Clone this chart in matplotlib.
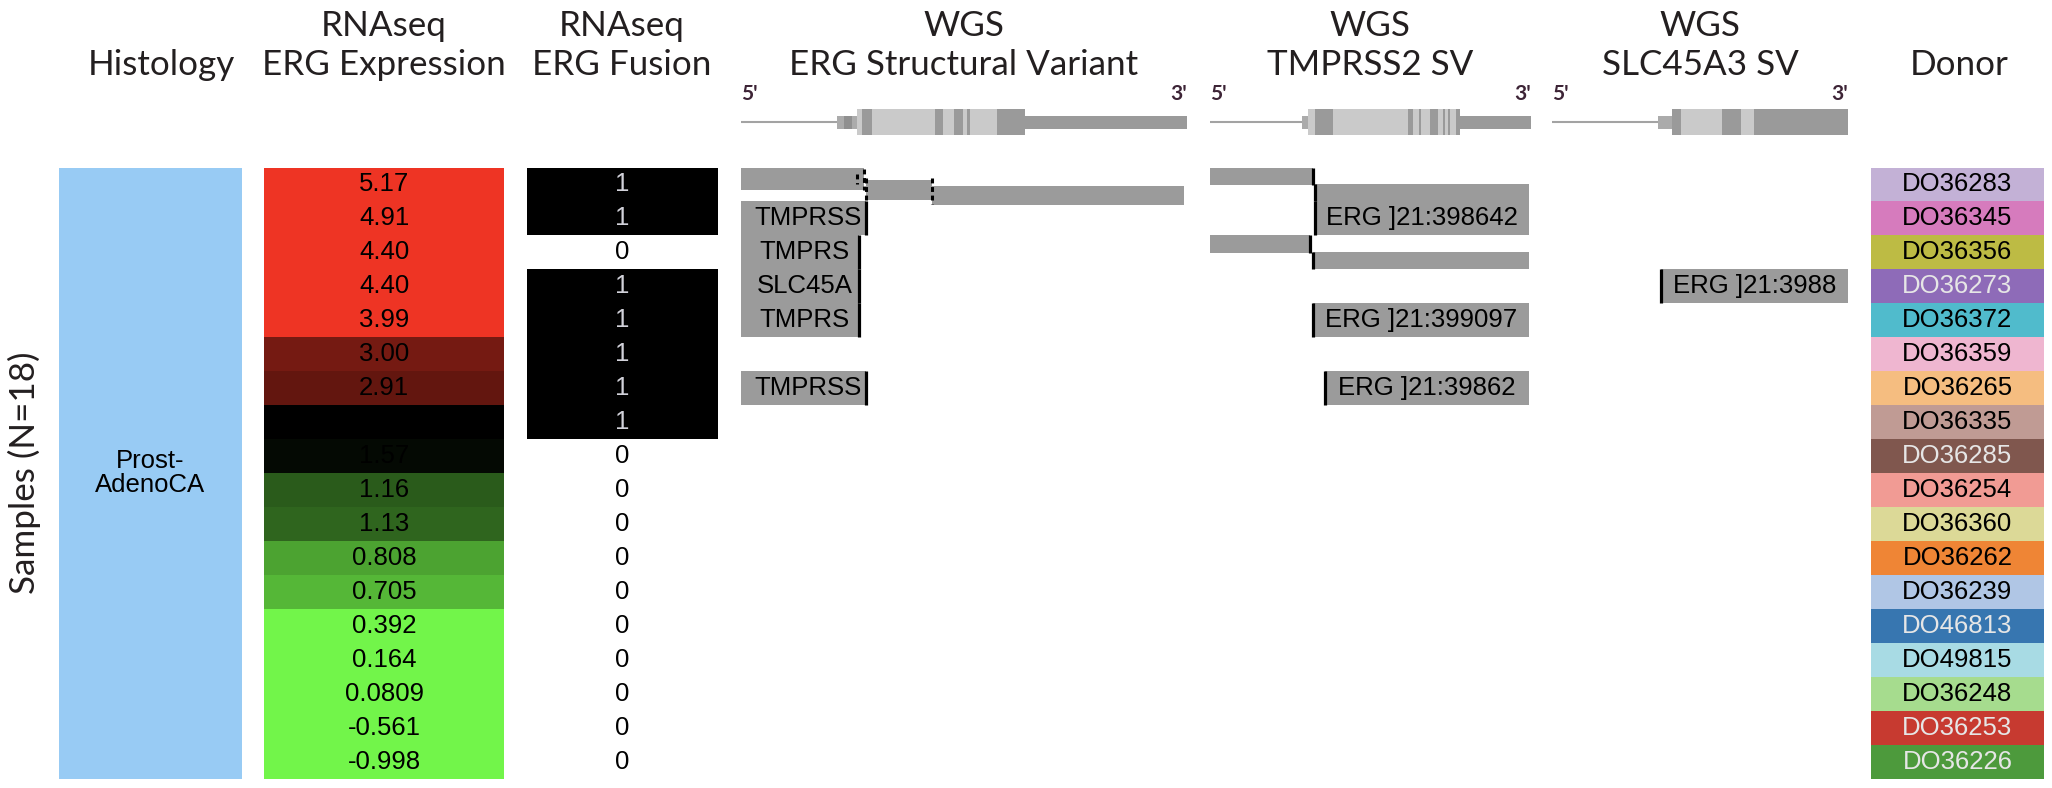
import matplotlib
matplotlib.use("Agg")
import matplotlib.pyplot as plt
from matplotlib.colors import LinearSegmentedColormap, Normalize

# ---------------- data ----------------
donors = ["DO36283", "DO36345", "DO36356", "DO36273", "DO36372", "DO36359",
          "DO36265", "DO36335", "DO36285", "DO36254", "DO36360", "DO36262",
          "DO36239", "DO46813", "DO49815", "DO36248", "DO36253", "DO36226"]
donor_colors = ["#c3b1d6", "#d67bbd", "#bdbb44", "#8e6bb8", "#50bbcc", "#efb6d0",
                "#f5bd80", "#c09b94", "#80574e", "#f19b94", "#dcd997", "#ef8535",
                "#b0c6e5", "#3776b0", "#a8dbe4", "#a6dc8e", "#c73a30", "#4d9a3c"]
donor_light_text = ["DO36273", "DO36285", "DO46813", "DO36253", "DO36226"]

histology_label = "Prost-\nAdenoCA"

erg_expression = [5.17, 4.91, 4.40, 4.40, 3.99, 3.00, 2.91, 2.02, 1.57, 1.16,
                  1.13, 0.808, 0.705, 0.392, 0.164, 0.0809, -0.561, -0.998]
erg_expression_labels = ["5.17", "4.91", "4.40", "4.40", "3.99", "3.00", "2.91",
                         "2.02", "1.57", "1.16", "1.13", "0.808", "0.705",
                         "0.392", "0.164", "0.0809", "-0.561", "-0.998"]
erg_fusion = [1, 1, 0, 1, 1, 1, 1, 1, 0, 0, 0, 0, 0, 0, 0, 0, 0, 0]

# structural variants (positions in % of the gene model width)
erg_sv_rows = [1, 2, 3, 4, 6]
erg_sv_partner = ["TMPRSS", "TMPRS", "SLC45A", "TMPRS", "TMPRSS"]
erg_sv_end = [28.0, 26.5, 26.5, 26.5, 28.0]
erg_split_row = 0
erg_split_pieces = [(0.0, 27.6), (28.0, 42.8), (42.8, 99.3)]

tmprss2_sv_rows = [1, 4, 6]
tmprss2_sv_labels = ["ERG ]21:398642", "ERG ]21:399097", "ERG ]21:39862"]
tmprss2_sv_start = [32.7, 32.1, 35.8]
tmprss2_split_rows = [0, 2]
tmprss2_split_pieces = [[(0.0, 32.1), (32.7, 99.4)], [(0.0, 31.2), (32.1, 99.4)]]

slc45a3_sv_rows = [3]
slc45a3_sv_labels = ["ERG ]21:3988"]
slc45a3_sv_start = [36.8]

# gene models (% of width)
erg_gene = dict(line=(0, 21.5), utr=[(21.5, 26.0)], utr_dark=[(23.1, 24.9)],
                light=[(26.0, 63.7)],
                dark=[(27.1, 29.4), (43.5, 45.3), (47.8, 49.8), (50.7, 51.3), (57.4, 63.7)],
                tail=(63.7, 100))
tmprss2_gene = dict(line=(0, 28.7), utr=[(28.7, 30.5)], utr_dark=[],
                    light=[(30.5, 77.9)],
                    dark=[(32.7, 38.3), (61.7, 63.2), (65.1, 65.7), (68.5, 71.0),
                          (72.6, 73.2), (74.1, 74.8), (76.6, 77.9)],
                    tail=(77.9, 100))
slc45a3_gene = dict(line=(0, 35.8), utr=[(35.8, 40.5)], utr_dark=[],
                    light=[(40.5, 68.2)],
                    dark=[(40.5, 43.6), (57.4, 63.9), (68.2, 100)],
                    tail=None)

# ---------------- layout ----------------
W, H, DPI = 2052, 788, 100
fig = plt.figure(figsize=(W / DPI, H / DPI), dpi=DPI)
fig.patch.set_facecolor("white")

ROW_TOP, ROW_BOT = 167.5, 778.7
N = len(donors)
rows = list(range(N))
GREY = "#9b9b9b"
HELV = "Liberation Sans"
FS = 18.5


def px_axes(x0, y0, x1, y1):
    ax = fig.add_axes([x0 / W, 1 - y1 / H, (x1 - x0) / W, (y1 - y0) / H])
    ax.set_xlim(0, 100)
    ax.axis("off")
    return ax


def row_axes(x0, x1):
    ax = px_axes(x0, ROW_TOP, x1, ROW_BOT)
    ax.set_ylim(N, 0)
    return ax


cols = dict(hist=(59, 242), expr=(264, 504), fus=(527, 718), erg=(741, 1187),
            tmp=(1210, 1531), slc=(1552, 1848), donor=(1871, 2044))

# Histology
ax = row_axes(*cols["hist"])
ax.barh(0, 100, height=N, align="edge", color="#98cbf4", linewidth=0)
ax.text(50, N / 2, histology_label, ha="center", va="center", fontsize=FS,
        family=HELV, linespacing=1.0)

# Expression
vmin, vmax = -1.0, 5.2
nodes = [-1.0, 0.39, 1.62, 2.38, 3.66, 5.2]
ncols = ["#72f54a", "#72f54a", "#000000", "#000000", "#ee3424", "#ee3424"]
cmap = LinearSegmentedColormap.from_list(
    "gkr", list(zip([(v - vmin) / (vmax - vmin) for v in nodes], ncols)))
norm = Normalize(vmin, vmax)
ax = row_axes(*cols["expr"])
ax.barh(rows, 100, height=1, align="edge", color=cmap(norm(erg_expression)),
        linewidth=0, antialiased=False)
for r, lab in zip(rows, erg_expression_labels):
    ax.text(50, r + 0.5, lab, ha="center", va="center", fontsize=FS, family=HELV,
            color="black")

# Fusion
ax = row_axes(*cols["fus"])
ax.barh(rows, [100 if v else 0 for v in erg_fusion], height=1, align="edge",
        color="black", linewidth=0, antialiased=False)
for r, v in zip(rows, erg_fusion):
    ax.text(50, r + 0.5, str(v), ha="center", va="center", fontsize=FS, family=HELV,
            color="#d2d2da" if v else "black")

# ERG SV
ax = row_axes(*cols["erg"])
for r, lab, e in zip(erg_sv_rows, erg_sv_partner, erg_sv_end):
    ax.barh(r, e, left=0, height=1, align="edge", color=GREY, linewidth=0,
            antialiased=False)
    ax.vlines(e, r, r + 1, colors="black", lw=2.3)
    ax.text(e / 2 + 1, r + 0.5, lab, ha="center", va="center", fontsize=FS,
            family=HELV)
offs = [(0.0, 0.66), (0.36, 0.60), (0.55, 0.56)]
for (s, e), (o, h) in zip(erg_split_pieces, offs):
    ax.barh(erg_split_row + o, e - s, left=s, height=h, align="edge", color=GREY,
            linewidth=0)
dash = (0, (1.6, 1.2))
ax.vlines(erg_split_pieces[0][1], 0.05, 0.66, colors="black", lw=2.2, linestyles=dash)
ax.vlines(erg_split_pieces[0][1] - 1.6, 0.2, 0.5, colors="black", lw=2.2, linestyles=dash)
ax.vlines(erg_split_pieces[1][0], 0.3, 1.0, colors="black", lw=2.2, linestyles=dash)
ax.vlines(erg_split_pieces[1][1], 0.3, 1.08, colors="black", lw=2.2, linestyles=dash)

# TMPRSS2 SV
ax = row_axes(*cols["tmp"])
for r, lab, s in zip(tmprss2_sv_rows, tmprss2_sv_labels, tmprss2_sv_start):
    ax.barh(r, 99.4 - s, left=s, height=1, align="edge", color=GREY, linewidth=0,
            antialiased=False)
    ax.vlines(s, r, r + 1, colors="black", lw=2.3)
    ax.text((s + 99.4) / 2, r + 0.5, lab, ha="center", va="center", fontsize=FS,
            family=HELV)
for r, pieces in zip(tmprss2_split_rows, tmprss2_split_pieces):
    (s1, e1), (s2, e2) = pieces
    ax.barh(r, e1 - s1, left=s1, height=0.53, align="edge", color=GREY, linewidth=0)
    ax.vlines(e1, r, r + 0.53, colors="black", lw=2.3)
    ax.barh(r + 0.5, e2 - s2, left=s2, height=0.5, align="edge", color=GREY,
            linewidth=0)
    ax.vlines(s2, r + 0.5, r + 1.0, colors="black", lw=2.3)

# SLC45A3 SV
ax = row_axes(*cols["slc"])
for r, lab, s in zip(slc45a3_sv_rows, slc45a3_sv_labels, slc45a3_sv_start):
    ax.barh(r, 100 - s, left=s, height=1, align="edge", color=GREY, linewidth=0,
            antialiased=False)
    ax.vlines(s, r, r + 1, colors="black", lw=2.3)
    ax.text((s + 100) / 2, r + 0.5, lab, ha="center", va="center", fontsize=FS,
            family=HELV)

# Donor
ax = row_axes(*cols["donor"])
ax.barh(rows, 100, height=1, align="edge", color=donor_colors, linewidth=0,
        antialiased=False)
for r, d in zip(rows, donors):
    ax.text(50, r + 0.5, d, ha="center", va="center", fontsize=FS, family=HELV,
            color="#e6e6e6" if d in donor_light_text else "black")

# Gene models in header
LIGHT, DARK, LINE = "#cacaca", "#9a9a9a", "#a3a3a3"


def gene_model(key, g):
    x0, x1 = cols[key]
    gx = px_axes(x0, 104.5, x1, 139.5)
    gx.set_ylim(-17.5, 17.5)
    a, b = g["line"]
    gx.plot([a, b], [0, 0], color=LINE, lw=1.5, solid_capstyle="butt")
    for s, e in g["utr"]:
        gx.barh(0, e - s, left=s, height=13, color="#ababab", linewidth=0)
    for s, e in g["utr_dark"]:
        gx.barh(0, e - s, left=s, height=13, color="#909090", linewidth=0)
    for s, e in g["light"]:
        gx.barh(0, e - s, left=s, height=26, color=LIGHT, linewidth=0)
    for s, e in g["dark"]:
        gx.barh(0, e - s, left=s, height=26, color=DARK, linewidth=0)
    if g["tail"] is not None:
        s, e = g["tail"]
        gx.barh(0, e - s, left=s, height=13, color=DARK, linewidth=0)
    fig.text(x0 / W, 1 - 100 / H, "5'", ha="left", va="baseline", fontsize=15,
             fontweight="bold", family="Lato", color="#3d2436")
    fig.text(x1 / W, 1 - 100 / H, "3'", ha="right", va="baseline", fontsize=15,
             fontweight="bold", family="Lato", color="#3d2436")


gene_model("erg", erg_gene)
gene_model("tmp", tmprss2_gene)
gene_model("slc", slc45a3_gene)

# Titles (size fitted to the reference width of "ERG Expression")
TF = "Lato"
probe = fig.text(0, 0, "ERG Expression", fontsize=27, family=TF)
fig.canvas.draw()
w = probe.get_window_extent(fig.canvas.get_renderer()).width
probe.remove()
TS = 27 * 243 / w

titles = [(161, None, "Histology"),
          (384, "RNAseq", "ERG Expression"),
          (622, "RNAseq", "ERG Fusion"),
          (964, "WGS", "ERG Structural Variant"),
          (1370, "WGS", "TMPRSS2 SV"),
          (1700, "WGS", "SLC45A3 SV"),
          (1959, None, "Donor")]
for xc, l1, l2 in titles:
    if l1:
        fig.text(xc / W, 1 - 36 / H, l1, ha="center", va="baseline", fontsize=TS,
                 family=TF, color="#231f20")
    fig.text(xc / W, 1 - 75 / H, l2, ha="center", va="baseline", fontsize=TS,
             family=TF, color="#231f20")

fig.text(24 / W, 1 - 473 / H, "Samples (N=18)", rotation=90, ha="center",
         va="center", fontsize=TS, family=TF, color="#231f20")

fig.savefig("out.png", dpi=DPI, facecolor="white")
